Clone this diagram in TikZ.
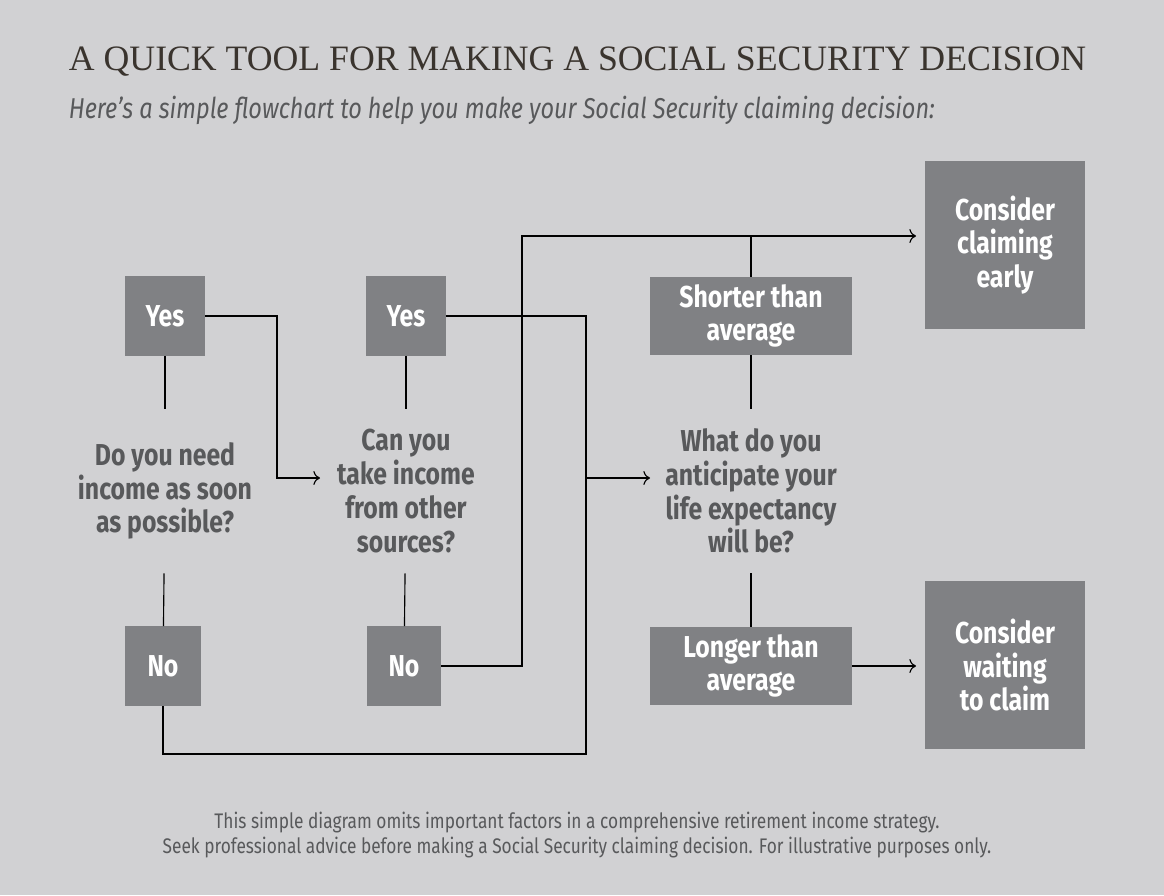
\documentclass[tikz,border=0pt]{standalone}
\usepackage{fontspec}
\setmainfont{Liberation Serif}
\setsansfont{Fira Sans}[FakeStretch=0.82]
\usetikzlibrary{positioning,arrows.meta}
\definecolor{bggray}{HTML}{D1D1D3}
\definecolor{boxgray}{HTML}{808184}
\definecolor{txtgray}{HTML}{58595B}
\definecolor{titlebrown}{HTML}{3A342E}
\begin{document}
\begin{tikzpicture}[x=0.025cm,y=-0.025cm,
    answer/.style ={fill=boxgray, text=white, font=\sffamily\bfseries\fontsize{21.5}{24}\selectfont, align=center, inner sep=0pt},
    question/.style ={text=txtgray, font=\sffamily\bfseries\fontsize{21.5}{24}\selectfont, align=center},
    link/.style ={thick, black, -{To[scale=1.4]}},
    line/.style ={thick, black}]
   \fill[bggray] (0,0) rectangle (1164,895);
   \node[anchor=west, text=titlebrown, font=\fontsize{25.4}{30}\selectfont] (title) at (64,62) {A QUICK TOOL FOR MAKING A SOCIAL SECURITY DECISION};
   \node[anchor=west, text=txtgray, font=\sffamily\itshape\fontsize{20.4}{22}\selectfont] (sub) at (64,110) {Here’s a simple flowchart to help you make your Social Security claiming decision:};

   \node[answer, minimum width=2cm, minimum height=1.975cm] (y1) at (165,316) {Yes};
   \node[answer, minimum width=1.875cm, minimum height=1.975cm] (n1) at (163,666) {No};
   \node[answer, minimum width=1.975cm, minimum height=1.975cm] (y2) at (406,316) {Yes};
   \node[answer, minimum width=1.85cm, minimum height=1.975cm] (n2) at (404,666) {No};
   \node[answer, minimum width=5.05cm, minimum height=1.95cm] (short) at (751,316) {Shorter than\\average};
   \node[answer, minimum width=5.05cm, minimum height=1.95cm] (long) at (751,666) {Longer than\\average};
   \node[answer, minimum width=3.975cm, minimum height=4.175cm] (early) at (1005,245) {Consider\\claiming\\early};
   \node[answer, minimum width=3.975cm, minimum height=4.175cm] (wait) at (1005,665) {Consider\\waiting\\to claim};

   \node[question, minimum height=4.1cm] (q1) at (165,491) {Do you need\\income as soon\\as possible?};
   \node[question, minimum height=4.1cm] (q2) at (406,491) {Can you\\take income\\from other\\sources?};
   \node[question, minimum height=4.1cm] (q3) at (751,491) {What do you\\anticipate your\\life expectancy\\will be?};

   \coordinate (t1) at (320,478);
   \coordinate (t3) at (650,478);
   \coordinate (te) at (916,236);
   \coordinate (tw) at (916,666);

   \draw[line] (y1) -- (q1);
   \draw[line] (q1) -- (n1);
   \draw[line] (y2) -- (q2);
   \draw[line] (q2) -- (n2);
   \draw[line] (short) -- (q3);
   \draw[line] (q3) -- (long);
   \draw[link] (y1.east) -| (277,478) -- (t1);
   \draw[line] (y2.east) -| (586,754) -| (n1.south);
   \draw[link] (586,478) -- (t3);
   \draw[link] (n2.east) -| (522,236) -- (te);
   \draw[line] (short.north) -- (751,236);
   \draw[link] (long.east) -- (tw);

   \node[text=txtgray, align=center, font=\sffamily\fontsize{15}{18}\selectfont] (foot) at (577,835) {This simple diagram omits important factors in a comprehensive retirement income strategy.\\Seek professional advice before making a Social Security claiming decision. For illustrative purposes only.};
 \end{tikzpicture}
\end{document}
